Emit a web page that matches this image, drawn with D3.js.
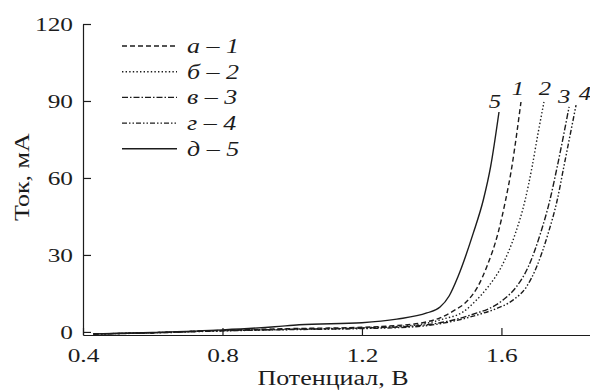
<!DOCTYPE html>
<html>
<head>
<meta charset="utf-8">
<script src="https://cdn.jsdelivr.net/npm/d3@7"></script>
<style>
  body { margin: 0; background: #fff; }
  svg { display: block; font-family: "Liberation Serif", "DejaVu Serif", serif; }
</style>
</head>
<body>
<div id="graph"></div>
<script>
// данные
const curveNames = ["1", "2", "3", "4", "5"];
const legendLetters = ["а", "б", "в", "г", "д"];
const xTicks = [0.4, 0.8, 1.2, 1.6];
const yTicks = [0, 30, 60, 90, 120];

const potential1 = [0.43, 0.6, 0.8, 1.0, 1.2, 1.3, 1.37, 1.424, 1.46, 1.505, 1.532, 1.558, 1.59, 1.612, 1.63, 1.644, 1.656];
const current1 = [-0.8, -0.3, 0.6, 1.3, 1.8, 2.5, 3.5, 5.5, 8.0, 12.5, 17.6, 25.4, 38.4, 51.4, 64.4, 77.4, 89.6];

const potential2 = [0.43, 0.6, 0.8, 1.0, 1.2, 1.35, 1.432, 1.49, 1.529, 1.562, 1.6, 1.64, 1.668, 1.688, 1.705, 1.722];
const current2 = [-0.8, -0.3, 0.5, 1.1, 1.6, 2.6, 5.0, 7.8, 12.5, 17.6, 25.4, 38.4, 51.4, 64.4, 77.4, 89.6];

const potential3 = [0.43, 0.6, 0.8, 1.0, 1.2, 1.35, 1.472, 1.53, 1.56, 1.605, 1.643, 1.677, 1.712, 1.739, 1.76, 1.794];
const current3 = [-0.8, -0.3, 0.5, 1.0, 1.5, 2.3, 5.0, 7.4, 8.8, 12.5, 17.6, 25.4, 38.4, 51.4, 64.4, 87.7];

const potential4 = [0.43, 0.6, 0.8, 1.0, 1.2, 1.35, 1.472, 1.54, 1.58, 1.634, 1.672, 1.701, 1.734, 1.76, 1.779, 1.814];
const current4 = [-0.8, -0.4, 0.4, 0.9, 1.3, 2.0, 4.5, 7.0, 8.8, 12.5, 17.6, 25.4, 38.4, 51.4, 64.4, 88.4];

const potential5 = [0.43, 0.6, 0.8, 0.95, 1.02, 1.2, 1.3, 1.386, 1.424, 1.45, 1.475, 1.519, 1.548, 1.569, 1.593];
const current5 = [-0.8, -0.2, 0.8, 2.0, 2.8, 3.6, 5.0, 7.4, 9.7, 14.0, 21.4, 38.4, 51.4, 64.4, 85.7];

const potentials = [potential1, potential2, potential3, potential4, potential5];
const currents = [current1, current2, current3, current4, current5];

// стили линий
const dashes = ["5,3", "1.4,2.2", "6,2,1.5,2", "5,2,1.5,2,1.5,2", null];
const ink = "#1c1c1c";
// смещение подписей кривых от их конца
const labelOffsets = [[-3, -7], [1, -7], [-5, -4], [9, -5], [-4, -4]];

const width = 590;
const height = 390;

const svg = d3.select("#graph")
      .append("svg")
      .attr("width", width)
      .attr("height", height);

const xScale = d3.scaleLinear()
      .domain([0.4, 1.854])
      .range([83, 590]);

const yScale = d3.scaleLinear()
      .domain([-1.2, 120])
      .range([335, 24]);

// оси
const xAxis = svg.append("g")
      .attr("transform", `translate(0, ${yScale(-1.2)})`)
      .call(d3.axisBottom(xScale)
            .tickValues(xTicks)
            .tickFormat(d3.format(".1f"))
            .tickSizeInner(-7)
            .tickSizeOuter(0));

xAxis.selectAll("text")
      .attr("y", 27)
      .attr("dy", null);

const yAxis = svg.append("g")
      .attr("transform", `translate(${xScale(0.4)}, 0)`)
      .call(d3.axisLeft(yScale)
            .tickValues(yTicks)
            .tickSizeInner(-8)
            .tickSizeOuter(0)
            .tickPadding(10));

svg.selectAll(".domain, .tick line")
      .attr("stroke", ink)
      .attr("stroke-width", 1.2);

svg.selectAll(".tick text")
      .attr("font-size", "19.5px")
      .attr("font-family", "Liberation Serif")
      .attr("fill", ink);

// подписи осей
svg.append("text")
      .attr("x", 333)
      .attr("y", 385)
      .attr("font-size", "20px")
      .attr("text-anchor", "middle")
      .attr("fill", ink)
      .text("Потенциал, В");

svg.append("text")
      .attr("transform", "rotate(-90)")
      .attr("x", -177)
      .attr("y", 29)
      .attr("font-size", "20px")
      .attr("text-anchor", "middle")
      .attr("fill", ink)
      .text("Ток, мА");

// кривые
const line = d3.line()
      .x(d => xScale(d[0]))
      .y(d => yScale(d[1]))
      .curve(d3.curveMonotoneX);

const series = curveNames.map((name, i) => ({
      name: name,
      letter: legendLetters[i],
      dash: dashes[i],
      points: potentials[i].map((v, j) => [v, currents[i][j]])
}));

svg.selectAll(".curve")
      .data(series)
      .join("path")
      .attr("class", "curve")
      .attr("fill", "none")
      .attr("stroke", ink)
      .attr("stroke-width", 1.4)
      .attr("stroke-dasharray", d => d.dash)
      .attr("d", d => line(d.points));

svg.selectAll(".curve-label")
      .data(series)
      .join("text")
      .attr("class", "curve-label")
      .attr("x", (d, i) => xScale(d.points[d.points.length - 1][0]) + labelOffsets[i][0])
      .attr("y", (d, i) => yScale(d.points[d.points.length - 1][1]) + labelOffsets[i][1])
      .attr("text-anchor", "middle")
      .attr("font-size", "19px")
      .attr("font-style", "italic")
      .attr("fill", ink)
      .text(d => d.name);

// легенда
const legend = svg.selectAll(".legend")
      .data(series)
      .join("g")
      .attr("class", "legend")
      .attr("transform", (d, i) => `translate(122, ${46 + i * 25.7})`);

legend.append("line")
      .attr("x1", 0)
      .attr("x2", 55)
      .attr("stroke", ink)
      .attr("stroke-width", 1.4)
      .attr("stroke-dasharray", d => d.dash);

legend.append("text")
      .attr("x", 65)
      .attr("y", 7)
      .attr("font-size", "20px")
      .attr("font-style", "italic")
      .attr("fill", ink)
      .text(d => d.letter + " – " + d.name);

// в оригинале текст растянут по горизонтали; точку привязки сохраняем
svg.selectAll("text").each(function () {
      const anchor = window.getComputedStyle(this).textAnchor;
      const b0 = this.getBBox();
      d3.select(this)
            .attr("textLength", this.getComputedTextLength() * 1.3)
            .attr("lengthAdjust", "spacingAndGlyphs");
      const b1 = this.getBBox();
      let shift = b0.x - b1.x;
      if (anchor === "middle") shift = (b0.x + b0.width / 2) - (b1.x + b1.width / 2);
      if (anchor === "end") shift = (b0.x + b0.width) - (b1.x + b1.width);
      d3.select(this).attr("dx", shift);
});
</script>
</body>
</html>
